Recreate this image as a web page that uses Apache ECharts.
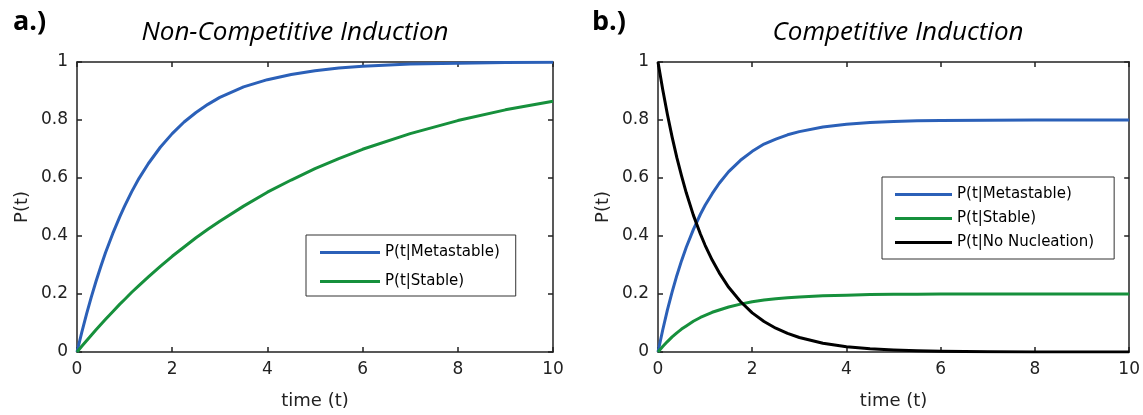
<!DOCTYPE html>
<html><head><meta charset="utf-8">
<script src="https://cdn.jsdelivr.net/npm/echarts@6/dist/echarts.min.js"></script>
<style>html,body{margin:0;padding:0;background:#fff}#c{width:1143px;height:415px}</style>
</head><body><div id="c"></div>
<script>
const times = [0,0.1,0.2,0.3,0.4,0.5,0.6,0.75,0.9,1,1.15,1.3,1.5,1.75,2,2.25,2.5,2.75,3,3.5,4,4.5,5,5.5,6,7,8,9,10];
// Panel a: Non-Competitive Induction
const aMetastable = [0,0.068,0.131,0.189,0.244,0.295,0.343,0.408,0.467,0.503,0.553,0.598,0.650,0.706,0.753,0.793,0.826,0.854,0.878,0.914,0.939,0.957,0.970,0.979,0.985,0.993,0.996,0.998,0.999];
const aStable = [0,0.020,0.039,0.058,0.077,0.095,0.113,0.139,0.165,0.181,0.206,0.229,0.259,0.295,0.330,0.362,0.394,0.423,0.451,0.503,0.551,0.593,0.632,0.667,0.699,0.753,0.798,0.835,0.865];
// Panel b: Competitive Induction
const bMetastable = [0,0.076,0.145,0.207,0.264,0.315,0.361,0.422,0.475,0.506,0.546,0.582,0.622,0.661,0.692,0.717,0.734,0.749,0.760,0.776,0.785,0.791,0.795,0.797,0.798,0.799,0.800,0.800,0.800];
const bStable = [0,0.019,0.036,0.052,0.066,0.079,0.090,0.106,0.119,0.126,0.137,0.145,0.155,0.165,0.173,0.179,0.184,0.187,0.190,0.194,0.196,0.198,0.199,0.199,0.200,0.200,0.200,0.200,0.200];
const bNoNucleation = [1,0.905,0.819,0.741,0.670,0.607,0.549,0.472,0.407,0.368,0.317,0.273,0.223,0.174,0.135,0.105,0.082,0.064,0.050,0.030,0.018,0.011,0.007,0.004,0.0025,0.0009,0.0003,0.0001,0];
const xTicks = [0,2,4,6,8,10];
const yTicks = [0,0.2,0.4,0.6,0.8,1];
const names = ['P(t|Metastable)','P(t|Stable)','P(t|No Nucleation)'];

const BLUE='#2b60b8', GREEN='#16903c', BLACK='#000000', AX='#222222';
const FONT='"DejaVu Sans", sans-serif';
const pairs = v => times.map((t,i)=>[t,v[i]]);

const grids = [
  {left:77, top:62, width:476, height:290},
  {left:658, top:62, width:476, height:290}
];
function xAx(g, top){
  return {type:'value', gridIndex:g, min:xTicks[0], max:xTicks[xTicks.length-1], interval:xTicks[1]-xTicks[0], position: top?'top':'bottom',
    axisLine:{show:true,onZero:false,lineStyle:{color:AX,width:1.5}},
    axisTick:{show:true,inside:true,length:5,lineStyle:{color:AX,width:1.5}},
    axisLabel:{show:!top,color:AX,fontSize:17,fontFamily:FONT,margin:9},
    splitLine:{show:false},
    name: top?'':'time (t)', nameLocation:'middle', nameGap:40,
    nameTextStyle:{color:AX,fontSize:18,fontFamily:FONT}};
}
function yAx(g, right){
  return {type:'value', gridIndex:g, min:yTicks[0], max:yTicks[yTicks.length-1], interval:0.2, position: right?'right':'left',
    axisLine:{show:true,onZero:false,lineStyle:{color:AX,width:1.5}},
    axisTick:{show:true,inside:true,length:5,lineStyle:{color:AX,width:1.5}},
    axisLabel:{show:!right,color:AX,fontSize:17,fontFamily:FONT,margin:9},
    splitLine:{show:false},
    name: right?'':'P(t)', nameLocation:'middle', nameGap:46, nameRotate:90,
    nameTextStyle:{color:AX,fontSize:18,fontFamily:FONT}};
}
function line(name, g, data, color){
  return {type:'line', name, xAxisIndex:g*2, yAxisIndex:g*2, data:pairs(data), smooth:false,
    showSymbol:false, symbol:'none', lineStyle:{color, width:3, join:'round'}, itemStyle:{color}, clip:true, animation:false};
}
const legendCommon = {orient:'vertical', icon:'rect', itemHeight:3, borderColor:'#333', borderWidth:1,
  textStyle:{color:'#000', fontSize:15, fontFamily:FONT}, selectedMode:false, backgroundColor:'#fff'};
const TFONT='"Open Sans", sans-serif';
const option = {
  animation:false,
  title:[
    {text:'a.)', left:8, top:4, textStyle:{fontSize:27, fontWeight:'bold', color:'#000', fontFamily:TFONT}},
    {text:'b.)', left:587, top:4, textStyle:{fontSize:27, fontWeight:'bold', color:'#000', fontFamily:TFONT}},
    {text:'Non-Competitive Induction', left:290, textAlign:'center', top:15, textStyle:{fontSize:26, fontStyle:'italic', fontWeight:'normal', color:'#000', fontFamily:TFONT}},
    {text:'Competitive Induction', left:893, textAlign:'center', top:15, textStyle:{fontSize:26, fontStyle:'italic', fontWeight:'normal', color:'#000', fontFamily:TFONT}}
  ],
  grid: grids,
  xAxis:[xAx(0,false), xAx(0,true), xAx(1,false), xAx(1,true)],
  yAxis:[yAx(0,false), yAx(0,true), yAx(1,false), yAx(1,true)],
  legend:[
    Object.assign({}, legendCommon, {left:306, top:235, itemWidth:60, itemGap:14, padding:[10,16,7,14], data:[names[0],names[1]]}),
    Object.assign({}, legendCommon, {left:882, top:177, itemWidth:57, itemGap:9, padding:[10,20,9,13], data:[names[0],names[1],names[2]]})
  ],
  series:[
    line(names[0], 0, aMetastable, BLUE),
    line(names[1], 0, aStable, GREEN),
    line(names[0], 1, bMetastable, BLUE),
    line(names[1], 1, bStable, GREEN),
    line(names[2], 1, bNoNucleation, BLACK)
  ]
};
const chart = echarts.init(document.getElementById('c'), null, {renderer:'canvas'});
chart.setOption(option);
</script></body></html>
